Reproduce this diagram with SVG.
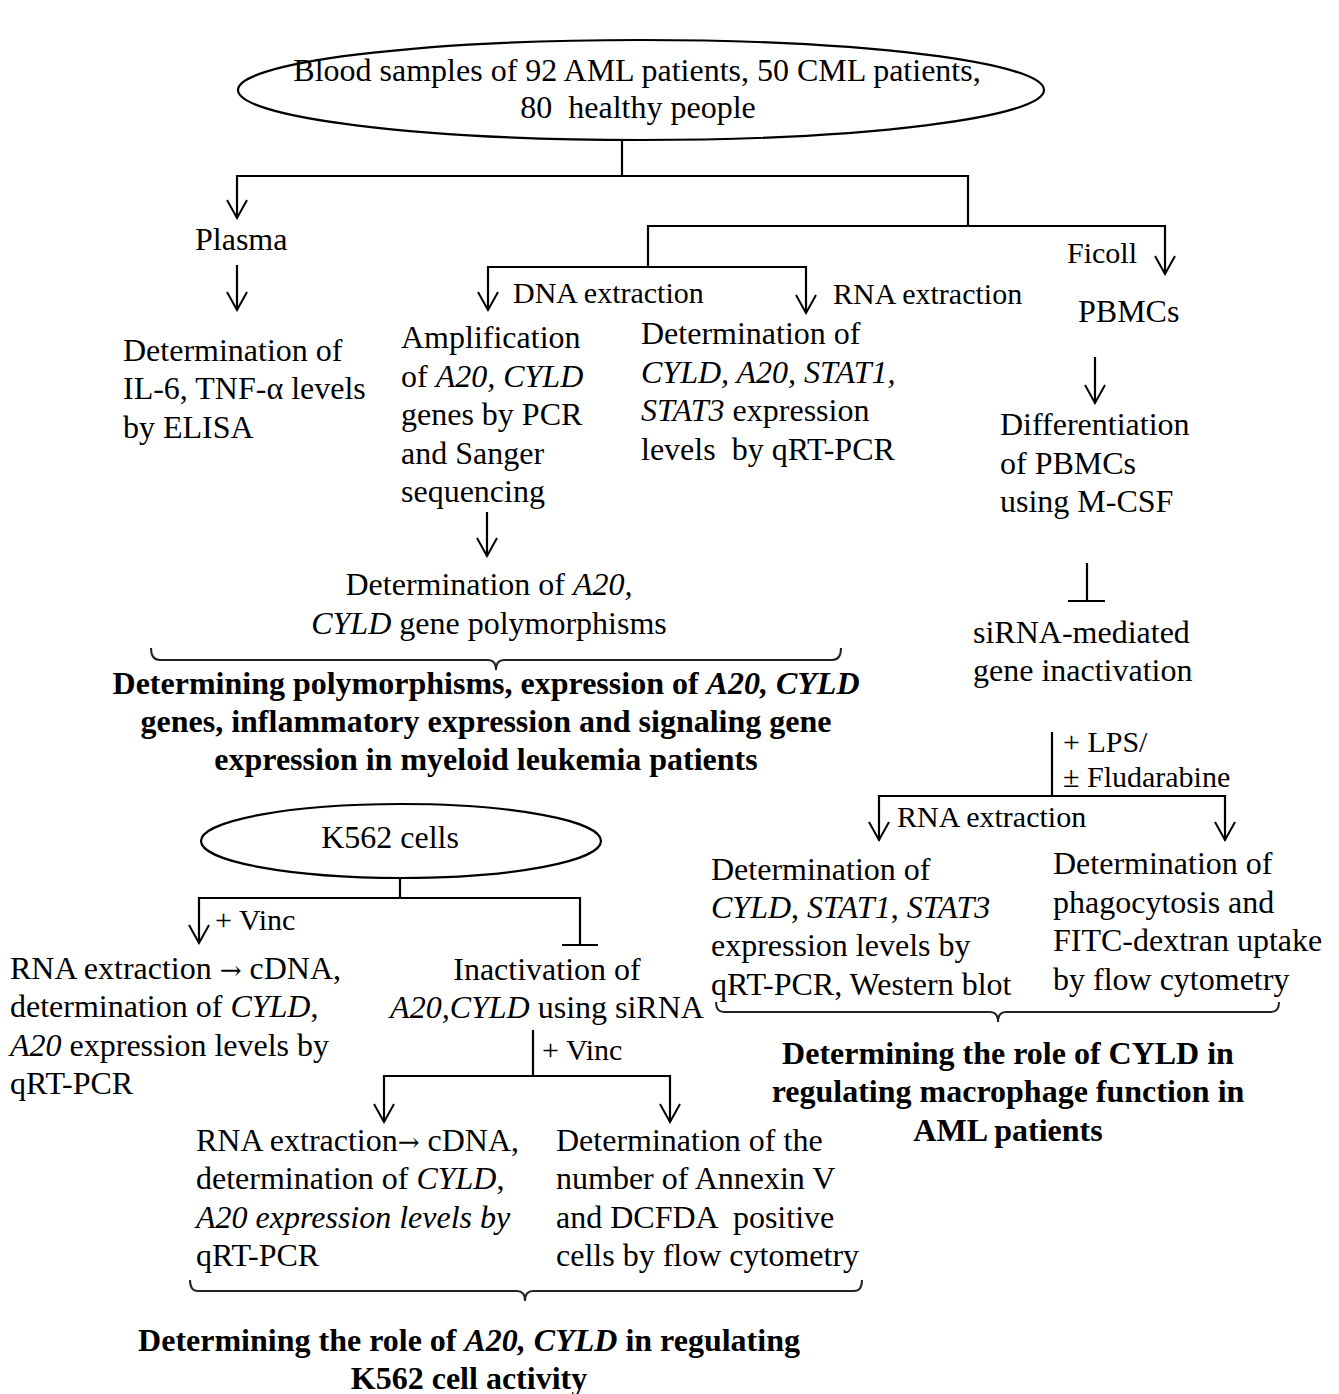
<svg xmlns="http://www.w3.org/2000/svg" width="1339" height="1394" viewBox="0 0 1339 1394">
<defs>
<marker id="arr" viewBox="-20 -12 22 24" refX="0" refY="0" markerWidth="22" markerHeight="24" markerUnits="userSpaceOnUse" orient="auto">
<path d="M-18,-10 L0,0 L-18,10" fill="none" stroke="#000" stroke-width="2"/>
</marker>
<style>
text{font-family:"Liberation Serif","Times New Roman",serif;font-size:32px;fill:#000;white-space:pre}
.s{font-size:30px}
.b{font-weight:bold}
.m{text-anchor:middle}
.i{font-style:italic}
.ar2{font-family:"DejaVu Serif",serif;font-size:26px}
.ln{fill:none;stroke:#000;stroke-width:2.2}
.ar{fill:none;stroke:#000;stroke-width:2.2;marker-end:url(#arr)}
.br{fill:none;stroke:#222;stroke-width:2}
.el{fill:#fff;stroke:#000;stroke-width:2.2}
</style>
</defs>
<rect width="1339" height="1394" fill="#fff"/>

<g id="connectors">
<path class="ln" d="M622,140 V176"/>
<path class="ar" d="M968,226 V176 H237 V218"/>
<path class="ar" d="M648,267 V226 H1165 V274"/>
<path class="ar" d="M648,267 H488 V310"/>
<path class="ar" d="M648,267 H806 V313"/>
<path class="ar" d="M237,265 V310"/>
<path class="ar" d="M487,512 V556"/>
<path class="ar" d="M1095,357 V403"/>
<path class="ln" d="M1087,563 V601 M1068,601 H1105"/>
<path class="ln" d="M1052,732 V796"/>
<path class="ar" d="M1052,796 H879 V840"/>
<path class="ar" d="M1052,796 H1225 V840"/>
<path class="ln" d="M400,878 V898"/>
<path class="ar" d="M400,898 H199 V943"/>
<path class="ln" d="M400,898 H580 V945 M562,945 H598"/>
<path class="ln" d="M533,1030 V1076"/>
<path class="ar" d="M533,1076 H384 V1122"/>
<path class="ar" d="M533,1076 H670 V1122"/>
<path class="br" d="M151,648 Q151,660 160,660 H488 Q496,660 496,670 Q496,660 504,660 H832 Q841,660 841,648"/>
<path class="br" d="M716,1002 Q716,1012 724,1012 H990 Q998,1012 998,1022 Q998,1012 1006,1012 H1271 Q1279,1012 1279,1002"/>
<path class="br" d="M190,1280 Q190,1291 198,1291 H517 Q525,1291 525,1301 Q525,1291 533,1291 H854 Q862,1291 862,1280"/>
</g>

<g id="n-blood">
<ellipse class="el" cx="641" cy="90" rx="403" ry="50"/>
<text class="m" x="637" y="81">Blood samples of 92 AML patients, 50 CML patients,</text>
<text class="m" x="638" y="118">80  healthy people</text>
</g>

<g id="n-plasma"><text x="195" y="250">Plasma</text></g>
<g id="l-dna"><text class="s" x="513" y="303">DNA extraction</text></g>
<g id="l-rna1"><text class="s" x="833" y="304">RNA extraction</text></g>
<g id="l-ficoll"><text class="s" x="1067" y="263">Ficoll</text></g>
<g id="n-pbmcs"><text x="1078" y="322">PBMCs</text></g>

<g id="n-elisa">
<text x="123" y="361">Determination of</text>
<text x="123" y="399">IL-6, TNF-α levels</text>
<text x="123" y="438">by ELISA</text>
</g>

<g id="n-amp">
<text x="401" y="348">Amplification</text>
<text x="401" y="387">of <tspan class="i">A20, CYLD</tspan></text>
<text x="401" y="425">genes by PCR</text>
<text x="401" y="464">and Sanger</text>
<text x="401" y="502">sequencing</text>
</g>

<g id="n-expr">
<text x="641" y="344">Determination of</text>
<text x="641" y="383" class="i">CYLD, A20, STAT1,</text>
<text x="641" y="421"><tspan class="i">STAT3</tspan> expression</text>
<text x="641" y="460">levels  by qRT-PCR</text>
</g>

<g id="n-diff">
<text x="1000" y="435">Differentiation</text>
<text x="1000" y="474">of PBMCs</text>
<text x="1000" y="512">using M-CSF</text>
</g>

<g id="n-poly">
<text class="m" x="489" y="595">Determination of <tspan class="i">A20,</tspan></text>
<text class="m" x="489" y="634"><tspan class="i">CYLD</tspan> gene polymorphisms</text>
</g>

<g id="n-sum1">
<text class="m b" x="486" y="694">Determining polymorphisms, expression of <tspan class="i">A20, CYLD</tspan></text>
<text class="m b" x="486" y="732">genes, inflammatory expression and signaling gene</text>
<text class="m b" x="486" y="770">expression in myeloid leukemia patients</text>
</g>

<g id="n-sirna">
<text x="973" y="643">siRNA-mediated</text>
<text x="973" y="681">gene inactivation</text>
</g>

<g id="l-lps">
<text class="s" x="1063" y="752">+ LPS/</text>
<text class="s" x="1063" y="787">± Fludarabine</text>
</g>
<g id="l-rna2"><text class="s" x="897" y="827">RNA extraction</text></g>

<g id="n-macexpr">
<text x="711" y="880">Determination of</text>
<text x="711" y="918"><tspan class="i">CYLD</tspan>, <tspan class="i">STAT1</tspan>, <tspan class="i">STAT3</tspan></text>
<text x="711" y="956">expression levels by</text>
<text x="711" y="995">qRT-PCR, Western blot</text>
</g>

<g id="n-phago">
<text x="1053" y="874">Determination of</text>
<text x="1053" y="913">phagocytosis and</text>
<text x="1053" y="951">FITC-dextran uptake</text>
<text x="1053" y="990">by flow cytometry</text>
</g>

<g id="n-sum2">
<text class="m b" x="1008" y="1064">Determining the role of CYLD in</text>
<text class="m b" x="1008" y="1102">regulating macrophage function in</text>
<text class="m b" x="1008" y="1141">AML patients</text>
</g>

<g id="n-k562">
<ellipse class="el" cx="401" cy="841" rx="200" ry="37"/>
<text class="m" x="390" y="848">K562 cells</text>
</g>

<g id="l-vinc1"><text class="s" x="215" y="930">+ Vinc</text></g>

<g id="n-k562expr">
<text x="10" y="979">RNA extraction <tspan class="ar2">→</tspan> cDNA,</text>
<text x="10" y="1017">determination of <tspan class="i">CYLD</tspan>,</text>
<text x="10" y="1056"><tspan class="i">A20</tspan> expression levels by</text>
<text x="10" y="1094">qRT-PCR</text>
</g>

<g id="n-inact">
<text class="m" x="547" y="980">Inactivation of</text>
<text class="m" x="547" y="1018"><tspan class="i">A20,CYLD</tspan> using siRNA</text>
</g>

<g id="l-vinc2"><text class="s" x="542" y="1060">+ Vinc</text></g>

<g id="n-k562expr2">
<text x="196" y="1151">RNA extraction<tspan class="ar2">→</tspan> cDNA,</text>
<text x="196" y="1189">determination of <tspan class="i">CYLD</tspan>,</text>
<text x="196" y="1228" class="i">A20 expression levels by</text>
<text x="196" y="1266">qRT-PCR</text>
</g>

<g id="n-annexin">
<text x="556" y="1151">Determination of the</text>
<text x="556" y="1189">number of Annexin V</text>
<text x="556" y="1228">and DCFDA  positive</text>
<text x="556" y="1266">cells by flow cytometry</text>
</g>

<g id="n-sum3">
<text class="m b" x="469" y="1351">Determining the role of <tspan class="i">A20, CYLD</tspan> in regulating</text>
<text class="m b" x="469" y="1389">K562 cell activity</text>
</g>
</svg>
